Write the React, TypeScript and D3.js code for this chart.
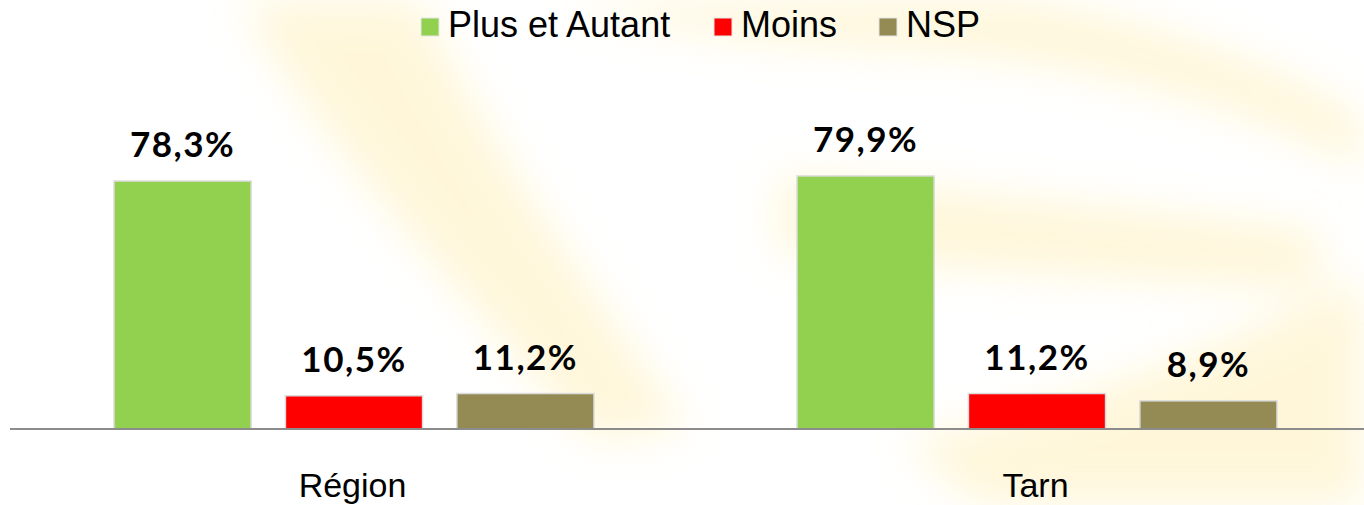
import React from "react";
import * as d3 from "d3";

const WIDTH = 1364;
const HEIGHT = 505;

const categories = ["Région", "Tarn"];
const seriesNames = ["Plus et Autant", "Moins", "NSP"];
const seriesColors = ["#92D050", "#FF0000", "#948A54"];
const regionValues = [78.3, 10.5, 11.2];
const tarnValues = [79.9, 11.2, 8.9];
const valueLabels = [
  ["78,3%", "10,5%", "11,2%"],
  ["79,9%", "11,2%", "8,9%"],
];

const groups = [regionValues, tarnValues];

const BASE_Y = 429;

// faint decorative swirl behind the chart
const swirls = [
  "M240,0 L420,0 C470,110 560,250 690,430 L590,440 C470,300 330,160 240,0 Z",
  "M560,0 L1020,0 C1150,20 1300,70 1364,120 L1364,170 C1250,110 1100,60 900,50 C760,45 650,30 560,0 Z",
  "M780,175 C950,190 1150,210 1320,230 L1320,290 C1150,280 950,270 780,255 Z",
  "M900,440 C1050,420 1250,330 1364,280 L1364,505 L980,505 Z",
];

export default function App() {
  const x0 = d3.scaleBand<string>().domain(categories).range([12, 1378]);
  const x1 = d3
    .scaleBand<string>()
    .domain(seriesNames)
    .range([102, 582])
    .paddingInner(0.2);
  const y = d3.scaleLinear().domain([0, 100]).range([BASE_Y, BASE_Y - 316.7]);

  const legendX = [421, 714, 879];

  return (
    <svg
      width={WIDTH}
      height={HEIGHT}
      style={{ position: "absolute", left: 0, top: 0, background: "#fff" }}
    >
      <defs>
        <filter id="soft" x="-20%" y="-20%" width="140%" height="140%">
          <feGaussianBlur stdDeviation="22" />
        </filter>
      </defs>
      <g filter="url(#soft)" fill="#FFE27A" opacity={0.28}>
        {swirls.map((d, i) => (
          <path key={i} d={d} />
        ))}
      </g>

      {seriesNames.map((name, i) => (
        <g key={name} transform={`translate(${legendX[i]},18)`}>
          <rect width={18} height={18} fill={seriesColors[i]} stroke="#e6e6e6" strokeWidth={1} />
          <text
            x={27}
            y={19}
            fontFamily="'Liberation Sans', Arial, sans-serif"
            fontSize={36}
            fill="#000"
          >
            {name}
          </text>
        </g>
      ))}

      {categories.map((cat, gi) => (
        <g key={cat} transform={`translate(${x0(cat)},0)`}>
          {groups[gi].map((v, si) => {
            const bx = x1(seriesNames[si])!;
            const bw = x1.bandwidth();
            return (
              <g key={si}>
                <rect
                  x={bx}
                  y={y(v)}
                  width={bw}
                  height={BASE_Y - y(v)}
                  fill={seriesColors[si]}
                  stroke="#dcdcdc"
                  strokeWidth={1.5}
                />
                <text
                  x={bx + bw / 2}
                  y={y(v) - 24}
                  textAnchor="middle"
                  fontFamily="Lato, 'Open Sans', sans-serif"
                  fontWeight="bold"
                  fontSize={35}
                  letterSpacing={1.5}
                  fill="#000"
                >
                  {valueLabels[gi][si]}
                </text>
              </g>
            );
          })}
          <text
            x={x0.bandwidth() / 2 - 1}
            y={497}
            textAnchor="middle"
            fontFamily="'Liberation Sans', Arial, sans-serif"
            fontSize={34}
            fill="#000"
          >
            {cat}
          </text>
        </g>
      ))}

      <line x1={10} x2={WIDTH} y1={BASE_Y} y2={BASE_Y} stroke="#8c8c8c" strokeWidth={2} />
    </svg>
  );
}
